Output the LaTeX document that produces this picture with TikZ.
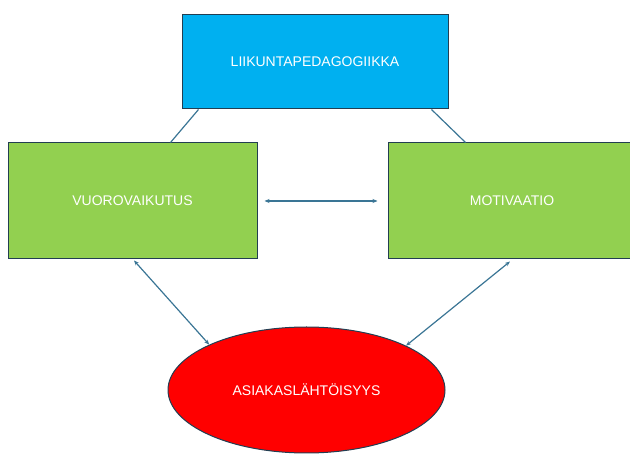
\documentclass[tikz,border=0pt]{standalone}
\usepackage{fontspec}
\setmainfont{Liberation Sans}
\usetikzlibrary{shapes.geometric,arrows.meta}
\definecolor{topblue}{HTML}{00B0F0}
\definecolor{boxgreen}{HTML}{92D050}
\definecolor{ellred}{HTML}{FF0000}
\definecolor{edgedark}{HTML}{223E52}
\definecolor{linkblue}{HTML}{3A7595}
\tikzset{
  boxstyle/.style={draw=edgedark, line width=1pt, rectangle, inner sep=0pt,
    text=white, font=\fontsize{14}{16}\selectfont},
  ellstyle/.style={draw=edgedark, line width=1pt, ellipse, inner sep=0pt,
    fill=ellred, text=white, font=\fontsize{14}{16}\selectfont},
  linkline/.style={draw=linkblue, line width=1.2pt},
  linkarrow/.style={linkline, {Stealth[length=5pt,width=4pt]}-{Stealth[length=5pt,width=4pt]}}
}
\begin{document}
\begin{tikzpicture}[x=1pt,y=-1pt]
\useasboundingbox (0,0) rectangle (630,454);
\begin{scope}
\clip (0,0) rectangle (630,454);
\node[boxstyle, fill=topblue, minimum width=266pt, minimum height=94pt] (top) at (315,62) {LIIKUNTAPEDAGOGIIKKA};
\node[boxstyle, fill=boxgreen, minimum width=249pt, minimum height=116pt] (left) at (132.5,201) {VUOROVAIKUTUS};
\node[boxstyle, fill=boxgreen, minimum width=248pt, minimum height=116pt] (right) at (512,201) {MOTIVAATIO};
\node[ellstyle, minimum width=277pt, minimum height=126pt] (ell) at (306.5,390) {ASIAKASLÄHTÖISYYS};
\end{scope}
\draw[linkline] ([xshift=17pt]top.south west) -- ([xshift=163pt]left.north west);
\draw[linkline] ([xshift=-17pt]top.south east) -- ([xshift=78pt]right.north west);
\draw[linkarrow] ([xshift=7pt]left.east) -- ([xshift=-10pt]right.west);
\draw[linkarrow] ([xshift=1.5pt,yshift=-1pt]left.south) -- (ell.155);
\draw[linkarrow] ([xshift=-2pt,yshift=-2pt]right.south) -- (ell.24);
\end{tikzpicture}
\end{document}
